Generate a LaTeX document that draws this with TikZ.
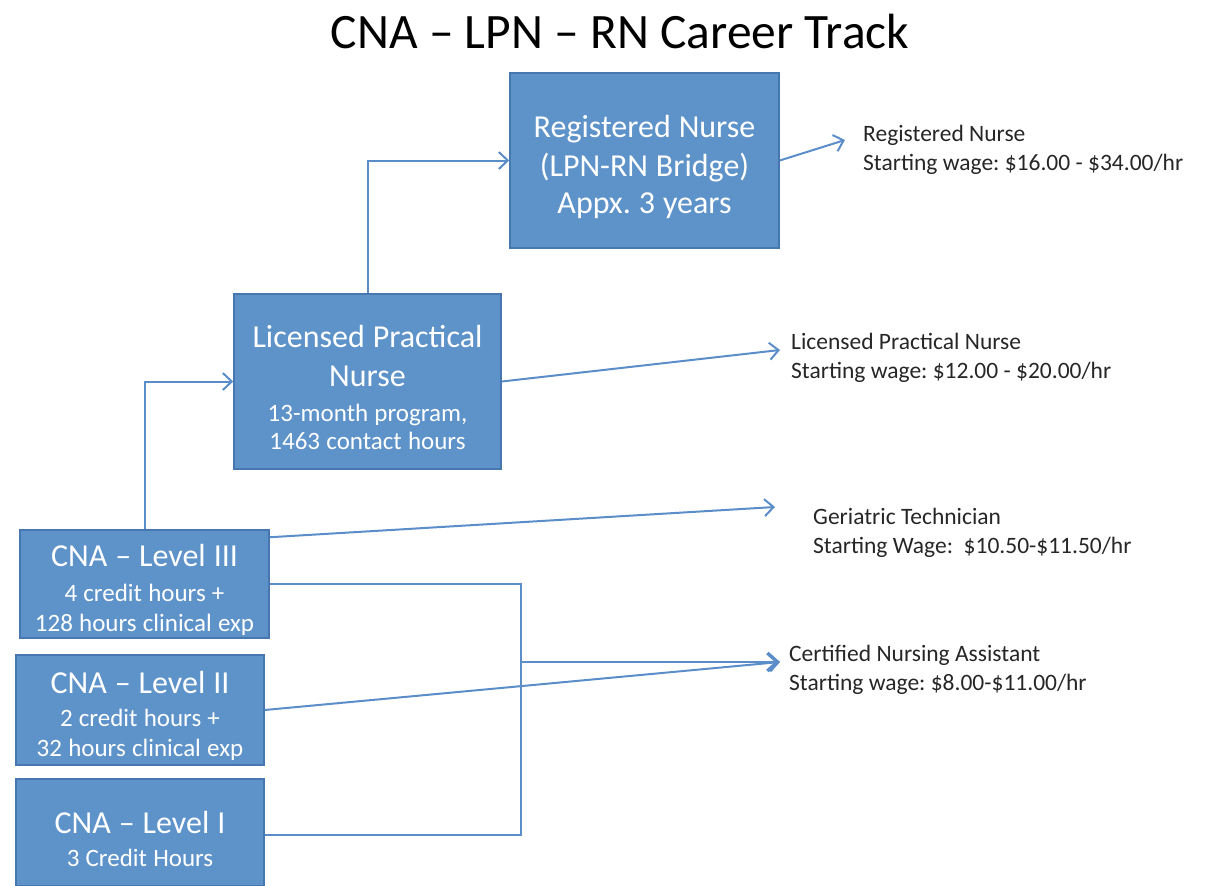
\documentclass[tikz,border=0pt]{standalone}
\usepackage{fontspec}
\setmainfont{Carlito}
\newfontfamily\boxfont{Carlito}[WordSpace=1.1]
\usetikzlibrary{arrows.meta, positioning, calc}
\definecolor{boxblue}{HTML}{5E93CA}
\definecolor{boxedge}{HTML}{4677AE}
\definecolor{linkblue}{HTML}{5B8DC9}
\definecolor{labelgray}{HTML}{262626}
\newcommand{\boxlift}{\rule{0pt}{35pt}}
\newcommand{\boxsub}{\fontsize{25}{30}\selectfont}
\tikzset{
  stagebox/.style={draw=boxedge, line width=1.5pt, fill=boxblue, text=white, align=center, inner sep=0pt,
    font=\boxfont\fontsize{32}{39}\selectfont\frenchspacing},
  link/.style={linkblue, line width=2pt},
  jump/.style={link, -{Straight Barb[length=9pt, width=17pt]}},
  bigjump/.style={link, -{Straight Barb[length=10pt, width=18pt, line width=3.5pt]}},
  wagetext/.style={anchor=west, align=left, inner sep=0pt, text=labelgray,
    font=\fontsize{23.5}{29.5}\selectfont\frenchspacing}
}

\begin{document}
\begin{tikzpicture}[x=1pt, y=-1pt]
  % Page frame
  \useasboundingbox (0,0) rectangle (1213,886);

  % Title
  \node[font=\fontsize{49.5}{49.5}\selectfont] (title) at (620,31) {CNA – LPN – RN Career Track};

  % Stage boxes
  \node[stagebox, minimum width=269pt, minimum height=175pt] (rn) at (644.5,160.5)
    {\boxlift Registered Nurse\\(LPN-RN Bridge)\\[-2pt]Appx. 3 years};
  \node[stagebox, minimum width=267pt, minimum height=175pt] (lpn) at (367.5,381.5)
    {\boxlift Licensed Practical\\Nurse\\[-4pt]\boxsub 13-month program,\\[-11pt]\boxsub 1463 contact hours};
  \node[stagebox, minimum width=249pt, minimum height=108pt] (c3) at (144.5,584)
    {\boxlift CNA – Level III\\[-4pt]\boxsub 4 credit hours +\\[-9pt]\boxsub 128 hours clinical exp};
  \node[stagebox, minimum width=248pt, minimum height=110pt] (c2) at (140,710)
    {\boxlift CNA – Level II\\[-6pt]\boxsub 2 credit hours +\\[-9pt]\boxsub 32 hours clinical exp};
  \node[stagebox, minimum width=248pt, minimum height=107pt] (c1) at (140,832.5)
    {\boxlift CNA – Level I\\[-6pt]\boxsub 3 Credit Hours};

  % Wage labels
  \node[wagetext] (rnwage) at (863,150) {Registered Nurse\\Starting wage: \$16.00 - \$34.00/hr};
  \node[wagetext] (lpnwage) at (791,358) {Licensed Practical Nurse\\Starting wage: \$12.00 - \$20.00/hr};
  \node[wagetext] (gerwage) at (813,533) {Geriatric Technician\\Starting Wage:\ \ \$10.50-\$11.50/hr};
  \node[wagetext] (cnawage) at (789,670) {Certified Nursing Assistant\\Starting wage: \$8.00-\$11.00/hr};

  % Arrow ends
  \coordinate (rntip) at (845,140);
  \coordinate (lpntip) at (780,350);
  \coordinate (gertip) at (775,507);
  \coordinate (cnatip) at (780,662);
  \coordinate (merge) at (521,662);

  % Career ladder
  \draw[jump] (c3.north) |- (lpn.west);
  \draw[jump] (lpn.north) |- (rn.west);

  % Wage arrows
  \draw[jump] (rn.east) -- (rntip);
  \draw[jump] (lpn.east) -- (lpntip);
  \draw[jump] ([yshift=-8pt]c3.north east) -- (gertip);
  \draw[link] (c3.east) -| (merge);
  \draw[link] ([yshift=-2pt]c1.east) -| (merge);
  \draw[bigjump] (merge) -- (cnatip);
  \draw[jump] (c2.east) -- (cnatip);
\end{tikzpicture}
\end{document}
